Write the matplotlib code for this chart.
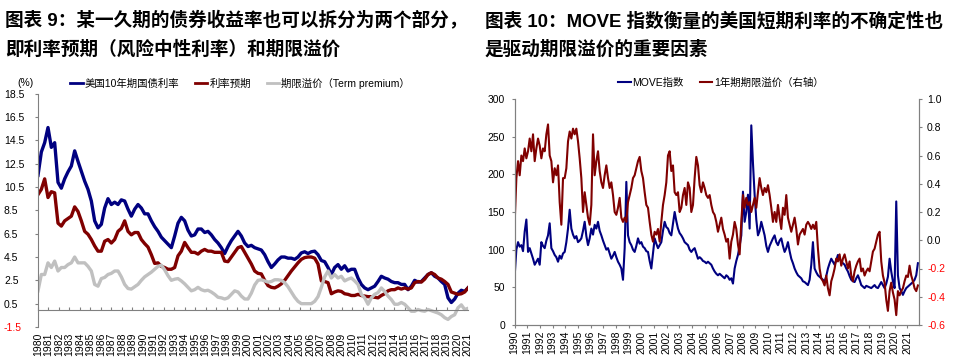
import numpy as np
import matplotlib
matplotlib.use('Agg')
import matplotlib.pyplot as plt
from matplotlib.lines import Line2D

plt.rcParams['font.family'] = ['Liberation Sans', 'Noto Sans CJK SC']

# ---------------- data: chart 9 (1980 - 2021) ----------------
us10y = [11.5, 13.5, 14.3, 15.6, 13.9, 14.3, 10.9, 10.4, 11.2, 11.8,
         12.3, 13.6, 12.7, 11.85, 11.0, 10.3, 9.3, 7.6, 7.0, 7.3,
         8.7, 9.5, 9.0, 9.2, 9.0, 9.4, 9.3, 8.6, 8.0, 8.6,
         9.0, 8.7, 8.2, 8.2, 7.6, 7.1, 6.7, 6.2, 5.9, 5.6,
         5.3, 6.3, 7.4, 7.9, 7.6, 6.8, 6.3, 6.4, 6.9, 6.9,
         6.6, 6.7, 6.4, 6.0, 5.7, 5.3, 4.8, 5.4, 5.9, 6.3,
         6.7, 6.3, 5.7, 5.4, 5.5, 5.3, 5.2, 5.1, 4.7, 4.1,
         3.6, 3.9, 4.25, 4.5, 4.5, 4.4, 4.4, 4.3, 4.5, 4.85,
         4.95, 4.8, 4.95, 5.0, 4.7, 4.2, 4.1, 3.6, 3.0, 3.6,
         3.85, 3.45, 3.75, 3.3, 3.45, 3.45, 2.7, 2.15, 1.85, 1.7,
         1.85, 2.0, 2.4, 2.85, 2.7, 2.6, 2.4, 2.3, 2.3, 2.15,
         2.15, 1.7, 2.0, 2.5, 2.35, 2.4, 2.7, 3.0, 3.15, 2.85,
         2.7, 2.4, 2.15, 1.0, 0.6, 0.9, 1.4, 1.65, 1.55, 1.85]
rate_exp = [9.85, 10.3, 11.2, 9.6, 10.1, 10.0, 7.4, 7.15, 7.6, 7.8,
            8.0, 8.8, 8.4, 7.6, 6.7, 6.45, 6.0, 5.45, 5.0, 5.0,
            5.85, 6.0, 5.7, 6.0, 6.7, 6.95, 7.6, 6.7, 6.4, 6.6,
            6.6, 6.0, 5.65, 5.35, 4.7, 3.95, 4.0, 3.7, 3.6, 3.45,
            3.45, 3.6, 4.6, 5.0, 5.75, 5.3, 4.9, 4.9, 4.75, 5.0,
            5.15, 5.0, 5.0, 4.9, 4.9, 4.9, 4.15, 4.1, 4.5, 4.9,
            5.3, 5.4, 4.9, 4.4, 3.9, 3.3, 3.1, 3.05, 2.5, 2.05,
            1.9, 1.85, 2.0, 2.2, 2.5, 2.9, 3.3, 3.65, 4.0, 4.3,
            4.45, 4.5, 4.5, 4.4, 3.9, 2.45, 2.4, 2.3, 1.35, 1.5,
            1.6, 1.55, 1.35, 1.3, 1.2, 1.2, 1.3, 1.2, 1.15, 1.1,
            1.1, 1.05, 1.0, 1.2, 1.35, 1.6, 1.7, 1.7, 1.85, 1.75,
            1.85, 1.75, 1.85, 2.3, 2.4, 2.35, 2.6, 3.0, 3.15, 3.0,
            2.7, 2.6, 2.4, 2.15, 1.5, 1.4, 1.3, 1.35, 1.5, 1.85]
term_prem = [1.6, 3.0, 3.0, 4.0, 3.6, 4.15, 3.3, 3.6, 3.6, 3.85,
             4.0, 4.5, 4.0, 4.0, 4.0, 3.7, 3.3, 2.15, 2.0, 2.65,
             2.75, 3.0, 3.1, 3.3, 3.3, 2.8, 2.15, 1.8, 1.75, 1.95,
             2.15, 2.5, 2.8, 3.0, 3.2, 3.45, 3.7, 3.8, 3.4, 2.9,
             2.5, 2.6, 2.65, 2.45, 2.2, 1.9, 1.6, 1.7, 1.9, 1.7,
             1.6, 1.65, 1.5, 1.3, 1.05, 1.0, 0.9, 1.0, 1.3, 1.6,
             1.5, 1.15, 0.9, 0.9, 1.4, 2.1, 2.5, 2.55, 2.45, 2.35,
             2.4, 2.55, 2.55, 2.5, 2.3, 1.95, 1.5, 1.05, 0.7, 0.5,
             0.5, 0.5, 0.5, 0.7, 1.1, 1.9, 2.8, 3.3, 2.7, 3.0,
             2.7, 2.85, 2.45, 2.6, 2.7, 2.45, 2.15, 1.3, 1.0, 0.45,
             1.0, 1.3, 1.45, 1.85, 1.55, 1.15, 0.85, 0.45, 0.45, 0.6,
             0.45, 0.15, -0.15, -0.15, 0.0, -0.1, -0.15, 0.0, -0.1, -0.2,
             -0.3, -0.45, -0.7, -0.85, -0.6, -0.45, 0.15, 0.4, 0.0, 0.1]
left_start, left_end = 1980.0, 2021.05
left_years = list(range(1980, 2022))
left_yticks = [-1.5, 0.5, 2.5, 4.5, 6.5, 8.5, 10.5, 12.5, 14.5, 16.5, 18.5]
left_names = ['美国10年期国债利率', '利率预期', '期限溢价（Term premium）']

# ---------------- data: chart 10 (1990 - 2021) ----------------
move = [66, 100, 110, 104, 106, 98, 124, 140, 97, 102,
        95, 88, 80, 84, 88, 80, 110, 105, 102, 112,
        119, 135, 102, 98, 93, 90, 84, 92, 88, 95,
        97, 110, 128, 153, 128, 120, 115, 118, 110, 112,
        115, 125, 137, 118, 106, 115, 128, 120, 133, 128,
        137, 125, 119, 112, 106, 100, 102, 95, 88, 92,
        97, 90, 84, 80, 75, 60, 102, 190, 119, 110,
        106, 100, 97, 105, 115, 108, 110, 104, 102, 98,
        97, 85, 75, 95, 115, 108, 102, 106, 110, 125,
        137, 130, 128, 122, 119, 135, 150, 138, 128, 122,
        119, 115, 110, 108, 106, 100, 97, 100, 102, 95,
        88, 90, 88, 85, 84, 82, 84, 82, 80, 75,
        71, 68, 66, 68, 66, 64, 62, 66, 64, 60,
        62, 55, 75, 85, 93, 105, 119, 177, 137, 150,
        173, 128, 265, 215, 173, 140, 119, 125, 137, 128,
        119, 105, 97, 105, 110, 115, 119, 110, 106, 112,
        115, 105, 97, 102, 110, 98, 88, 82, 75, 70,
        66, 64, 62, 58, 57, 55, 53, 60, 80, 110,
        75, 70, 66, 64, 62, 60, 57, 65, 75, 82,
        88, 84, 80, 86, 93, 88, 84, 82, 80, 75,
        71, 65, 60, 58, 57, 62, 66, 60, 53, 51,
        49, 52, 51, 50, 49, 51, 53, 50, 49, 53,
        57, 53, 49, 55, 64, 88, 71, 58, 49, 164,
        66, 49, 45, 40, 45, 49, 51, 53, 55, 57,
        60, 66, 82]
tp1y = [0.13, 0.44, 0.56, 0.46, 0.60, 0.56, 0.65, 0.58, 0.63, 0.72,
        0.63, 0.75, 0.56, 0.65, 0.72, 0.67, 0.58, 0.65, 0.63, 0.75,
        0.82, 0.60, 0.56, 0.41, 0.51, 0.46, 0.53, 0.27, 0.11, 0.44,
        0.44, 0.51, 0.70, 0.77, 0.72, 0.79, 0.75, 0.79, 0.70, 0.58,
        0.44, 0.20, 0.34, 0.25, 0.16, 0.11, 0.25, 0.75, 0.46, 0.56,
        0.63, 0.49, 0.41, 0.37, 0.46, 0.53, 0.44, 0.37, 0.41, 0.32,
        0.20, 0.18, 0.23, 0.30, 0.16, 0.13, 0.16, 0.13, 0.27, 0.32,
        0.37, 0.44, 0.46, 0.51, 0.56, 0.59, 0.49, 0.44, 0.34, 0.25,
        0.23, 0.13, 0.04, -0.01, 0.06, 0.04, 0.08, -0.01, 0.13, 0.25,
        0.32, 0.41, 0.60, 0.63, 0.49, 0.53, 0.34, 0.32, 0.34, 0.20,
        0.23, 0.32, 0.37, 0.25, 0.41, 0.37, 0.20, 0.25, 0.44, 0.59,
        0.53, 0.39, 0.34, 0.41, 0.37, 0.32, 0.30, 0.32, 0.25, 0.20,
        0.18, 0.13, 0.06, 0.11, 0.16, 0.08, 0.04, -0.01, 0.01, -0.13,
        -0.01, 0.04, 0.13, 0.08, -0.03, -0.10, 0.13, 0.32, 0.23, 0.30,
        0.25, 0.27, 0.20, 0.25, 0.30, 0.23, 0.34, 0.44, 0.37, 0.32,
        0.37, 0.34, 0.39, 0.32, 0.23, 0.13, 0.20, 0.13, 0.25, 0.16,
        0.08, 0.23, 0.18, 0.32, 0.16, 0.11, 0.06, 0.11, 0.16, 0.08,
        -0.03, 0.04, 0.06, 0.08, 0.04, 0.11, 0.13, 0.11, 0.08, 0.11,
        0.08, 0.13, -0.06, -0.20, -0.27, -0.29, -0.32, -0.25, -0.34, -0.39,
        -0.29, -0.25, -0.20, -0.13, -0.15, -0.10, -0.18, -0.13, -0.10, -0.15,
        -0.20, -0.15, -0.25, -0.29, -0.22, -0.18, -0.15, -0.13, -0.22, -0.20,
        -0.25, -0.22, -0.20, -0.22, -0.15, -0.08, -0.06, -0.01, 0.04, 0.06,
        -0.15, -0.25, -0.30, -0.42, -0.50, -0.36, -0.30, -0.37, -0.42, -0.53,
        -0.36, -0.39, -0.36, -0.34, -0.29, -0.25, -0.26, -0.18, -0.25, -0.29,
        -0.34, -0.36, -0.32]
right_start, right_end = 1990.0, 2021.84
right_years = list(range(1990, 2022))
move_ticks = [0, 50, 100, 150, 200, 250, 300]
tp_ticks = [-0.6, -0.4, -0.2, 0.0, 0.2, 0.4, 0.6, 0.8, 1.0]
right_names = ['MOVE指数', '1年期期限溢价（右轴）']

BLUE, RED, GRAY, AX = '#000080', '#800000', '#C0C0C0', '#808080'
FS = 7.5
W, H = 957, 361

fig = plt.figure(figsize=(W / 100, H / 100), dpi=100)

# titles
title_kw = dict(fontsize=13.4, fontweight='bold', va='center', ha='left')
fig.text(5 / W, 1 - 21 / H, '图表 9：某一久期的债券收益率也可以拆分为两个部分，', **title_kw)
fig.text(5 / W, 1 - 50 / H, '即利率预期（风险中性利率）和期限溢价', **title_kw)
fig.text(485 / W, 1 - 21 / H, '图表 10：MOVE 指数衡量的美国短期利率的不确定性也', **title_kw)
fig.text(485 / W, 1 - 50 / H, '是驱动期限溢价的重要因素', **title_kw)

# ---------------- left chart ----------------
ax = fig.add_axes([38 / W, 1 - 327 / H, 430 / W, (327 - 93.7) / H])
for vals, c in [(us10y, BLUE), (rate_exp, RED), (term_prem, GRAY)]:
    x = np.linspace(left_start, left_end, len(vals))
    ax.plot(x, vals, color=c, lw=2.4, solid_joinstyle='round')
ax.set_xlim(left_start, left_end)
ax.set_ylim(-1.5, 18.5)
for s in ['top', 'right']:
    ax.spines[s].set_visible(False)
ax.spines['left'].set_color(AX)
ax.spines['bottom'].set_color(AX)
ax.spines['bottom'].set_position(('data', 0))
ax.set_yticks(left_yticks)
ax.set_yticklabels([f'{v:.1f}' for v in left_yticks])
ax.tick_params(axis='y', direction='out', length=2.2, color=AX, labelsize=FS, pad=22.3)
for lbl in ax.get_yticklabels():
    lbl.set_horizontalalignment('left')
    if lbl.get_text().startswith('-'):
        lbl.set_color('#FF0000')
ax.set_xticks(left_years)
ax.tick_params(axis='x', direction='in', length=2.2, color=AX, labelbottom=False)
sec = ax.secondary_xaxis('bottom')
sec.set_xticks(left_years)
sec.set_xticklabels([str(y) for y in left_years], rotation=90)
sec.tick_params(length=0, pad=4, labelsize=FS)
sec.spines['bottom'].set_visible(False)

handles = [Line2D([], [], color=c, lw=2) for c in (BLUE, RED, GRAY)]
fig.legend(handles, left_names, loc='center left', bbox_to_anchor=(70 / W, 1 - 83 / H),
           ncol=3, frameon=False, fontsize=FS, handlelength=1.2, handletextpad=0.2,
           columnspacing=1.5, borderpad=0, borderaxespad=0)
fig.text(17 / W, 1 - 83 / H, '(%)', fontsize=FS, va='center', ha='left')

# ---------------- right chart ----------------
bx = fig.add_axes([514.7 / W, 1 - 325 / H, 404.6 / W, (325 - 99) / H])
bx.plot(np.linspace(right_start, right_end, len(move)), move, color=BLUE, lw=1.5)
bx.set_xlim(right_start, 2021.95)
bx.set_ylim(0, 300)
bx.spines['top'].set_visible(False)
for s in ['left', 'bottom', 'right']:
    bx.spines[s].set_color(AX)
bx.set_yticks(move_ticks)
bx.tick_params(axis='y', direction='out', length=2.2, color=AX, labelsize=FS, pad=4.8)
bx.set_xticks(right_years)
bx.set_xticklabels([str(y) for y in right_years], rotation=90)
bx.tick_params(axis='x', direction='out', length=2.2, color=AX, labelsize=FS, pad=2)

bx2 = bx.twinx()
bx2.plot(np.linspace(right_start, right_end, len(tp1y)), tp1y, color=RED, lw=1.5)
bx2.set_ylim(-0.6, 1.0)
bx2.spines['top'].set_visible(False)
for s in ['left', 'bottom', 'right']:
    bx2.spines[s].set_color(AX)
bx2.set_yticks(tp_ticks)
bx2.set_yticklabels([f'{v:.1f}' for v in tp_ticks])
bx2.tick_params(axis='y', direction='out', length=2.2, color=AX, labelsize=FS, pad=3.4)
for lbl in bx2.get_yticklabels():
    if lbl.get_text().startswith('-'):
        lbl.set_color('#FF0000')

handles2 = [Line2D([], [], color=c, lw=1.5) for c in (BLUE, RED)]
fig.legend(handles2, right_names, loc='center left', bbox_to_anchor=(618 / W, 1 - 83 / H),
           ncol=2, frameon=False, fontsize=FS, handlelength=1.2, handletextpad=0.2,
           columnspacing=1.5, borderpad=0, borderaxespad=0)

fig.savefig('out.png', dpi=100)
